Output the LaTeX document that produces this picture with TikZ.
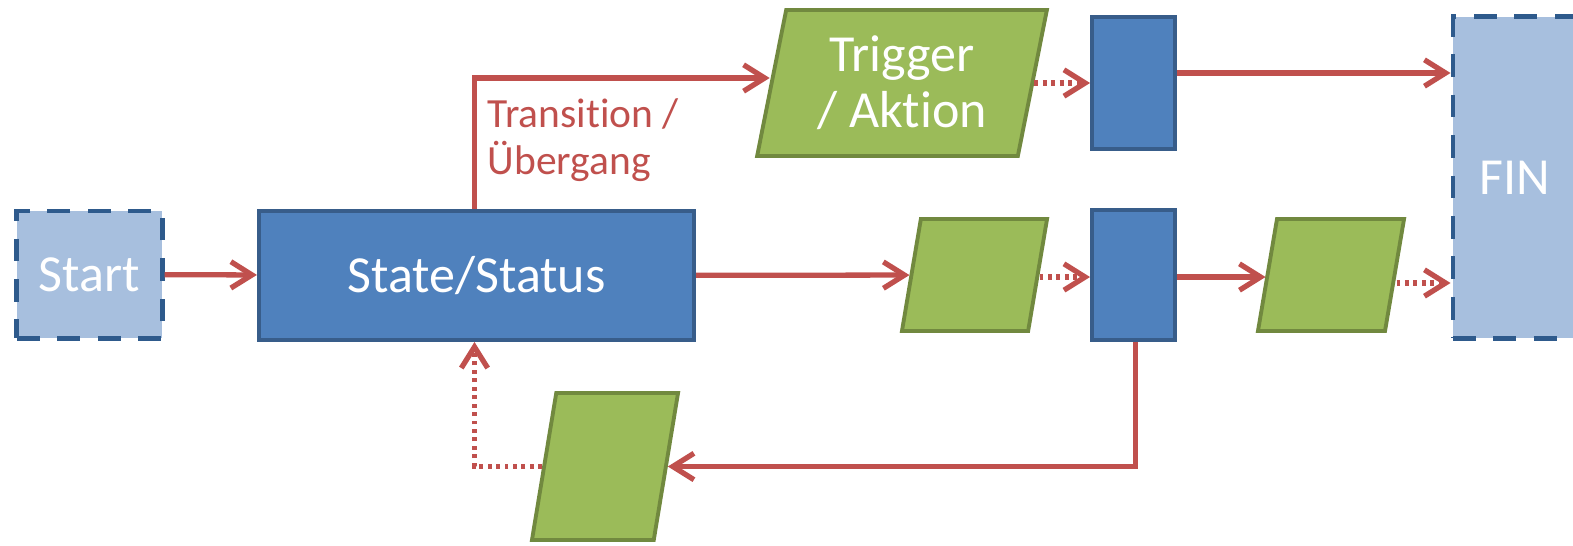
\documentclass[tikz,border=0pt]{standalone}
\usepackage{fontspec}
\setmainfont[Ligatures=NoCommon]{Carlito}
\usetikzlibrary{shapes.geometric,arrows.meta}
\definecolor{boxblue}{HTML}{4F81BD}
\definecolor{blueedge}{HTML}{385D8A}
\definecolor{lightblue}{HTML}{A7BFDE}
\definecolor{dashblue}{HTML}{2E5A8C}
\definecolor{boxgreen}{HTML}{9BBB59}
\definecolor{greenedge}{HTML}{71893F}
\definecolor{flowred}{HTML}{C0504D}

\begin{document}
\begin{tikzpicture}[x=0.01cm,y=-0.01cm,
    statebox/.style={draw=blueedge,fill=boxblue,line width=1.1pt,
        text=white,inner sep=0pt,font=\fontsize{14.8}{16}\selectfont},
    endbox/.style={draw=dashblue,fill=lightblue,line width=1.4pt,
        dash pattern=on 6.5pt off 5pt,text=white,inner sep=0pt,
        font=\fontsize{14.8}{16}\selectfont},
    actbox/.style={trapezium,trapezium stretches=true,draw=greenedge,
        fill=boxgreen,line width=1.1pt,text=white,inner sep=2pt,
        font=\fontsize{14.8}{16}\selectfont},
    flow/.style={draw=flowred,line width=1.5pt,
        -{Straight Barb[length=6pt,width=7.5pt]}},
    flowdot/.style={flow,dash pattern=on 1.1pt off 1.3pt}]
\useasboundingbox (0,0) rectangle (1573,545);
\coordinate (c1) at (89.5,274.5);
\coordinate (c2) at (476.5,275.5);
\coordinate (c3) at (902,83);
\coordinate (c4) at (1133.5,83);
\coordinate (c5) at (1515,177.5);
\coordinate (c6) at (974.5,275);
\coordinate (c7) at (1133.5,275);
\coordinate (c8) at (1331,275);
\coordinate (c9) at (605,466.5);
% states
\node [endbox,minimum width=1.45cm,minimum height=1.27cm] 
    (start) at (c1) {Start};
\node [statebox,minimum width=4.35cm,minimum height=1.29cm] 
    (state) at (c2) {State/Status};
\node [statebox,minimum width=0.83cm,minimum height=1.32cm] 
    (sw1) at (c4) {};
\node [statebox,minimum width=0.83cm,minimum height=1.30cm] 
    (sw2) at (c7) {};
\node [endbox,minimum width=1.24cm,minimum height=3.21cm] 
    (fin) at (c5) {FIN};
% trigger / actions
\node [actbox,trapezium left angle=78,trapezium right angle=102,
    minimum width=2.90cm,minimum height=1.46cm,align=center] 
    (trig) at (c3) {Trigger\\/ Aktion};
\node [actbox,trapezium left angle=80,trapezium right angle=100,
    minimum width=1.45cm,minimum height=1.12cm] (act1) at (c6) {};
\node [actbox,trapezium left angle=80,trapezium right angle=100,
    minimum width=1.46cm,minimum height=1.12cm] (act2) at (c8) {};
\node [actbox,trapezium left angle=76,trapezium right angle=104,
    minimum width=1.46cm,minimum height=1.47cm] (act3) at (c9) {};
\node [text=flowred,align=left,anchor=west,inner sep=0pt,
    font=\fontsize{11.8}{13.5}\selectfont] (lbl) at (487,140) 
    {Transition /\\Übergang};
% connectors
\draw [flow] (start) -- (state);
\draw [flow] ([xshift=-0.02cm]state.north) |- ([yshift=0.05cm]trig.west);
\draw [flowdot] (trig.east) -- (trig.east -| sw1.west);
\draw [flow] ([yshift=0.1cm]sw1.east) -- ([yshift=0.1cm]sw1.east -| fin.west);
\draw [flow] (state) -- (act1);
\draw [flowdot] ([yshift=-0.02cm]act1.east) -- ([yshift=-0.02cm]act1.east -| sw2.west);
\draw [flow] ([yshift=-0.02cm]sw2.east) -- ([yshift=-0.02cm]sw2.east -| act2.west);
\draw [flowdot] ([yshift=-0.08cm]act2.east) -- ([yshift=-0.08cm]act2.east -| fin.west);
\draw [flow] ([xshift=0.02cm]sw2.south) |- (act3.east);
\draw [flowdot] (act3.west) -| ([xshift=-0.02cm]state.south);
\end{tikzpicture}
\end{document}
